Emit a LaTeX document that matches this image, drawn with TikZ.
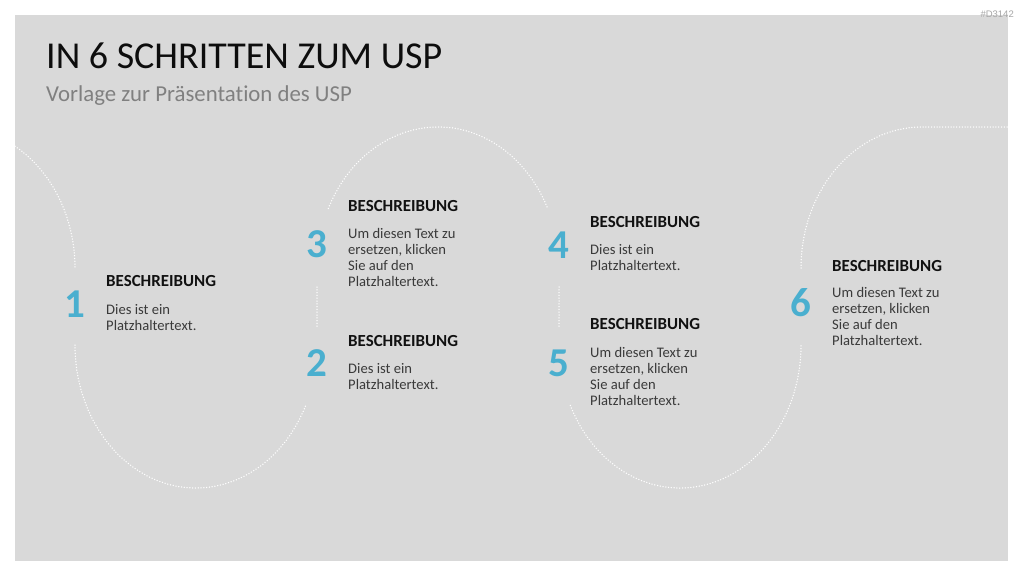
\documentclass[tikz,border=0pt]{standalone}
\usepackage{fontspec}
\setmainfont{Carlito}[Ligatures=NoCommon]
\newfontfamily\tagfont{Liberation Sans}
\definecolor{bg}{HTML}{D9D9D9}
\definecolor{numblue}{HTML}{4AAFCF}
\definecolor{titlec}{HTML}{0D0D0D}
\definecolor{subc}{HTML}{808080}
\definecolor{headc}{HTML}{111111}
\definecolor{bodyc}{HTML}{3A3A3A}
\definecolor{tagc}{HTML}{A6A6A6}
\begin{document}
\begin{tikzpicture}[x=1pt,y=1pt,
  num/.style={font=\fontsize{41}{41}\selectfont\bfseries, text=numblue, inner sep=0},
  head/.style={font=\fontsize{16.9}{20}\selectfont\bfseries, text=headc, inner sep=0, anchor=base west},
  body/.style={font=\fontsize{14.6}{16}\selectfont, text=bodyc, inner sep=0, anchor=base west, align=left},
  dots/.style={white, line width=1.5pt, line cap=round, dash pattern=on 0pt off 2.8pt}]
\useasboundingbox (0,0) rectangle (1024,-576);
\fill[white] (0,0) rectangle (1024,-576);
\fill[bg] (15,-15) rectangle (1008,-561);
\node[font=\tagfont\fontsize{9.5}{11}\selectfont, text=tagc, inner sep=0, anchor=base east] (tag) at (1014,-17) {\#D3142};
% title
\node[font=\fontsize{38}{44}\selectfont, text=titlec, inner sep=0, anchor=base west] (title) at (46,-68) {IN 6 SCHRITTEN ZUM USP};
\node[font=\fontsize{22.8}{26}\selectfont, text=subc, inner sep=0, anchor=base west] (subtitle) at (46,-101) {Vorlage zur Präsentation des USP};
% dotted path
\begin{scope}
\clip (15,-15) rectangle (1008,-561);
\draw[dots] (15.04,-146.25) arc[start angle=59.7, end angle=0, x radius=121, y radius=141];
\draw[dots] (75,-345) arc[start angle=180, end angle=335, x radius=121, y radius=143];
\draw[dots] (317,-287) -- (317,-328);
\draw[dots] (328.34,-208.41) arc[start angle=155, end angle=25, x radius=121, y radius=141];
\draw[dots] (559,-287) -- (559,-328);
\draw[dots] (570.34,-405.43) arc[start angle=205, end angle=360, x radius=121, y radius=143];
\draw[dots] (801,-268) arc[start angle=180, end angle=90, x radius=121, y radius=141] -- (1008,-127);
\end{scope}
% step 1
\node[num] (n1) at (75,-304) {1};
\node[head] (h1) at (106,-286) {BESCHREIBUNG};
\node[body] (t1) at (106,-330) {Dies ist ein\\Platzhaltertext.};
% step 3
\node[num] (n3) at (317,-244) {3};
\node[head] (h3) at (348,-211) {BESCHREIBUNG};
\node[body] (t3) at (348,-286) {Um diesen Text zu\\ersetzen, klicken\\Sie auf den\\Platzhaltertext.};
% step 2
\node[num] (n2) at (317,-363) {2};
\node[head] (h2) at (348,-346) {BESCHREIBUNG};
\node[body] (t2) at (348,-389) {Dies ist ein\\Platzhaltertext.};
% step 4
\node[num] (n4) at (559,-245) {4};
\node[head] (h4) at (590,-227) {BESCHREIBUNG};
\node[body] (t4) at (590,-270) {Dies ist ein\\Platzhaltertext.};
% step 5
\node[num] (n5) at (559,-363) {5};
\node[head] (h5) at (590,-329) {BESCHREIBUNG};
\node[body] (t5) at (590,-405) {Um diesen Text zu\\ersetzen, klicken\\Sie auf den\\Platzhaltertext.};
% step 6
\node[num] (n6) at (801,-303) {6};
\node[head] (h6) at (832,-271) {BESCHREIBUNG};
\node[body] (t6) at (832,-345) {Um diesen Text zu\\ersetzen, klicken\\Sie auf den\\Platzhaltertext.};
\end{tikzpicture}
\end{document}
